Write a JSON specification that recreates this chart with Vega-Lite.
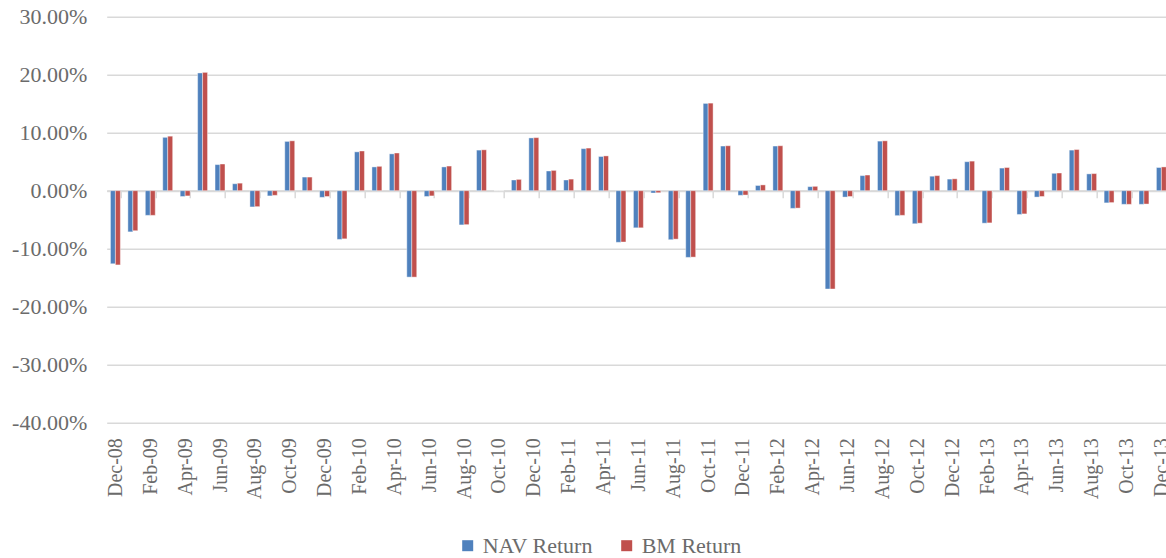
{
  "$schema": "https://vega.github.io/schema/vega-lite/v6.json",
  "autosize": {"type": "none"},
  "width": 1063.4,
  "height": 406,
  "padding": {"left": 106.7, "top": 16.7, "right": 0, "bottom": 135.3},
  "background": "white",
  "config": {"view": {"stroke": null}, "font": "Liberation Serif"},
  "data": {"values": [
    {"m":"Dec-08","s":"NAV Return","v":-0.126},{"m":"Dec-08","s":"BM Return","v":-0.128},
    {"m":"Jan-09","s":"NAV Return","v":-0.071},{"m":"Jan-09","s":"BM Return","v":-0.069},
    {"m":"Feb-09","s":"NAV Return","v":-0.0425},{"m":"Feb-09","s":"BM Return","v":-0.0425},
    {"m":"Mar-09","s":"NAV Return","v":0.092},{"m":"Mar-09","s":"BM Return","v":0.094},
    {"m":"Apr-09","s":"NAV Return","v":-0.010},{"m":"Apr-09","s":"BM Return","v":-0.009},
    {"m":"May-09","s":"NAV Return","v":0.203},{"m":"May-09","s":"BM Return","v":0.204},
    {"m":"Jun-09","s":"NAV Return","v":0.045},{"m":"Jun-09","s":"BM Return","v":0.046},
    {"m":"Jul-09","s":"NAV Return","v":0.012},{"m":"Jul-09","s":"BM Return","v":0.013},
    {"m":"Aug-09","s":"NAV Return","v":-0.028},{"m":"Aug-09","s":"BM Return","v":-0.0275},
    {"m":"Sep-09","s":"NAV Return","v":-0.009},{"m":"Sep-09","s":"BM Return","v":-0.008},
    {"m":"Oct-09","s":"NAV Return","v":0.085},{"m":"Oct-09","s":"BM Return","v":0.086},
    {"m":"Nov-09","s":"NAV Return","v":0.0235},{"m":"Nov-09","s":"BM Return","v":0.0235},
    {"m":"Dec-09","s":"NAV Return","v":-0.0115},{"m":"Dec-09","s":"BM Return","v":-0.010},
    {"m":"Jan-10","s":"NAV Return","v":-0.084},{"m":"Jan-10","s":"BM Return","v":-0.083},
    {"m":"Feb-10","s":"NAV Return","v":0.067},{"m":"Feb-10","s":"BM Return","v":0.0685},
    {"m":"Mar-10","s":"NAV Return","v":0.041},{"m":"Mar-10","s":"BM Return","v":0.042},
    {"m":"Apr-10","s":"NAV Return","v":0.0635},{"m":"Apr-10","s":"BM Return","v":0.065},
    {"m":"May-10","s":"NAV Return","v":-0.149},{"m":"May-10","s":"BM Return","v":-0.149},
    {"m":"Jun-10","s":"NAV Return","v":-0.010},{"m":"Jun-10","s":"BM Return","v":-0.009},
    {"m":"Jul-10","s":"NAV Return","v":0.041},{"m":"Jul-10","s":"BM Return","v":0.0425},
    {"m":"Aug-10","s":"NAV Return","v":-0.059},{"m":"Aug-10","s":"BM Return","v":-0.0585},
    {"m":"Sep-10","s":"NAV Return","v":0.070},{"m":"Sep-10","s":"BM Return","v":0.0705},
    {"m":"Oct-10","s":"NAV Return","v":0.0},{"m":"Oct-10","s":"BM Return","v":0.0},
    {"m":"Nov-10","s":"NAV Return","v":0.0185},{"m":"Nov-10","s":"BM Return","v":0.0195},
    {"m":"Dec-10","s":"NAV Return","v":0.091},{"m":"Dec-10","s":"BM Return","v":0.0915},
    {"m":"Jan-11","s":"NAV Return","v":0.034},{"m":"Jan-11","s":"BM Return","v":0.035},
    {"m":"Feb-11","s":"NAV Return","v":0.0185},{"m":"Feb-11","s":"BM Return","v":0.020},
    {"m":"Mar-11","s":"NAV Return","v":0.0725},{"m":"Mar-11","s":"BM Return","v":0.0735},
    {"m":"Apr-11","s":"NAV Return","v":0.059},{"m":"Apr-11","s":"BM Return","v":0.060},
    {"m":"May-11","s":"NAV Return","v":-0.089},{"m":"May-11","s":"BM Return","v":-0.0885},
    {"m":"Jun-11","s":"NAV Return","v":-0.064},{"m":"Jun-11","s":"BM Return","v":-0.064},
    {"m":"Jul-11","s":"NAV Return","v":-0.004},{"m":"Jul-11","s":"BM Return","v":-0.0035},
    {"m":"Aug-11","s":"NAV Return","v":-0.0845},{"m":"Aug-11","s":"BM Return","v":-0.0835},
    {"m":"Sep-11","s":"NAV Return","v":-0.115},{"m":"Sep-11","s":"BM Return","v":-0.1145},
    {"m":"Oct-11","s":"NAV Return","v":0.1505},{"m":"Oct-11","s":"BM Return","v":0.151},
    {"m":"Nov-11","s":"NAV Return","v":0.077},{"m":"Nov-11","s":"BM Return","v":0.0775},
    {"m":"Dec-11","s":"NAV Return","v":-0.008},{"m":"Dec-11","s":"BM Return","v":-0.0075},
    {"m":"Jan-12","s":"NAV Return","v":0.009},{"m":"Jan-12","s":"BM Return","v":0.010},
    {"m":"Feb-12","s":"NAV Return","v":0.077},{"m":"Feb-12","s":"BM Return","v":0.0775},
    {"m":"Mar-12","s":"NAV Return","v":-0.0305},{"m":"Mar-12","s":"BM Return","v":-0.030},
    {"m":"Apr-12","s":"NAV Return","v":0.007},{"m":"Apr-12","s":"BM Return","v":0.0075},
    {"m":"May-12","s":"NAV Return","v":-0.1695},{"m":"May-12","s":"BM Return","v":-0.1695},
    {"m":"Jun-12","s":"NAV Return","v":-0.011},{"m":"Jun-12","s":"BM Return","v":-0.010},
    {"m":"Jul-12","s":"NAV Return","v":0.026},{"m":"Jul-12","s":"BM Return","v":0.027},
    {"m":"Aug-12","s":"NAV Return","v":0.0855},{"m":"Aug-12","s":"BM Return","v":0.086},
    {"m":"Sep-12","s":"NAV Return","v":-0.043},{"m":"Sep-12","s":"BM Return","v":-0.0425},
    {"m":"Oct-12","s":"NAV Return","v":-0.057},{"m":"Oct-12","s":"BM Return","v":-0.056},
    {"m":"Nov-12","s":"NAV Return","v":0.025},{"m":"Nov-12","s":"BM Return","v":0.026},
    {"m":"Dec-12","s":"NAV Return","v":0.020},{"m":"Dec-12","s":"BM Return","v":0.0205},
    {"m":"Jan-13","s":"NAV Return","v":0.050},{"m":"Jan-13","s":"BM Return","v":0.051},
    {"m":"Feb-13","s":"NAV Return","v":-0.056},{"m":"Feb-13","s":"BM Return","v":-0.0555},
    {"m":"Mar-13","s":"NAV Return","v":0.039},{"m":"Mar-13","s":"BM Return","v":0.040},
    {"m":"Apr-13","s":"NAV Return","v":-0.041},{"m":"Apr-13","s":"BM Return","v":-0.040},
    {"m":"May-13","s":"NAV Return","v":-0.011},{"m":"May-13","s":"BM Return","v":-0.010},
    {"m":"Jun-13","s":"NAV Return","v":0.030},{"m":"Jun-13","s":"BM Return","v":0.0305},
    {"m":"Jul-13","s":"NAV Return","v":0.070},{"m":"Jul-13","s":"BM Return","v":0.071},
    {"m":"Aug-13","s":"NAV Return","v":0.029},{"m":"Aug-13","s":"BM Return","v":0.0295},
    {"m":"Sep-13","s":"NAV Return","v":-0.021},{"m":"Sep-13","s":"BM Return","v":-0.0205},
    {"m":"Oct-13","s":"NAV Return","v":-0.0235},{"m":"Oct-13","s":"BM Return","v":-0.0235},
    {"m":"Nov-13","s":"NAV Return","v":-0.0235},{"m":"Nov-13","s":"BM Return","v":-0.023},
    {"m":"Dec-13","s":"NAV Return","v":0.040},{"m":"Dec-13","s":"BM Return","v":0.041}
  ]},
  "mark": {"type": "bar", "stroke": "white", "strokeWidth": 0.6, "strokeOpacity": 0.7},
  "encoding": {
    "x": {
      "field": "m", "type": "ordinal", "sort": null, "title": null,
      "scale": {"paddingInner": 0.43, "paddingOuter": 0.215},
      "axis": {
        "values": ["Dec-08","Feb-09","Apr-09","Jun-09","Aug-09","Oct-09","Dec-09","Feb-10","Apr-10","Jun-10","Aug-10","Oct-10","Dec-10","Feb-11","Apr-11","Jun-11","Aug-11","Oct-11","Dec-11","Feb-12","Apr-12","Jun-12","Aug-12","Oct-12","Dec-12","Feb-13","Apr-13","Jun-13","Aug-13","Oct-13","Dec-13"],
        "offset": -232,
        "tickBand": "extent",
        "ticks": true, "tickSize": 7, "tickColor": "#d9d9d9", "tickWidth": 1.5,
        "domain": true, "domainColor": "#d9d9d9", "domainWidth": 2,
        "labelAngle": -90, "labelAlign": "right", "labelBaseline": "middle",
        "labelPadding": 240, "labelFont": "Liberation Serif", "labelFontSize": 20,
        "labelColor": "#6b6b6b", "grid": false, "zindex": 0
      }
    },
    "xOffset": {"field": "s", "type": "nominal", "sort": ["NAV Return", "BM Return"]},
    "y": {
      "field": "v", "type": "quantitative", "title": null,
      "scale": {"domain": [-0.4, 0.3], "nice": false, "zero": false},
      "axis": {
        "values": [-0.4, -0.3, -0.2, -0.1, 0, 0.1, 0.2, 0.3],
        "labelExpr": "replace(format(datum.value, '.2%'), '\u2212', '-')",
        "domain": false, "ticks": false,
        "gridColor": "#d9d9d9", "gridWidth": 1.5,
        "labelPadding": 20, "labelFont": "Liberation Serif", "labelFontSize": 22,
        "labelColor": "#6b6b6b"
      }
    },
    "color": {
      "field": "s", "type": "nominal", "title": null,
      "sort": ["NAV Return", "BM Return"],
      "scale": {"domain": ["NAV Return", "BM Return"], "range": ["#4F81BD", "#C0504D"]},
      "legend": {
        "orient": "none", "legendX": 350, "legendY": 518, "direction": "horizontal",
        "symbolType": "square", "symbolSize": 121, "symbolStrokeWidth": 0,
        "labelFont": "Liberation Serif", "labelFontSize": 22, "labelColor": "#6b6b6b",
        "columnPadding": 22, "labelOffset": 4
      }
    }
  }
}
